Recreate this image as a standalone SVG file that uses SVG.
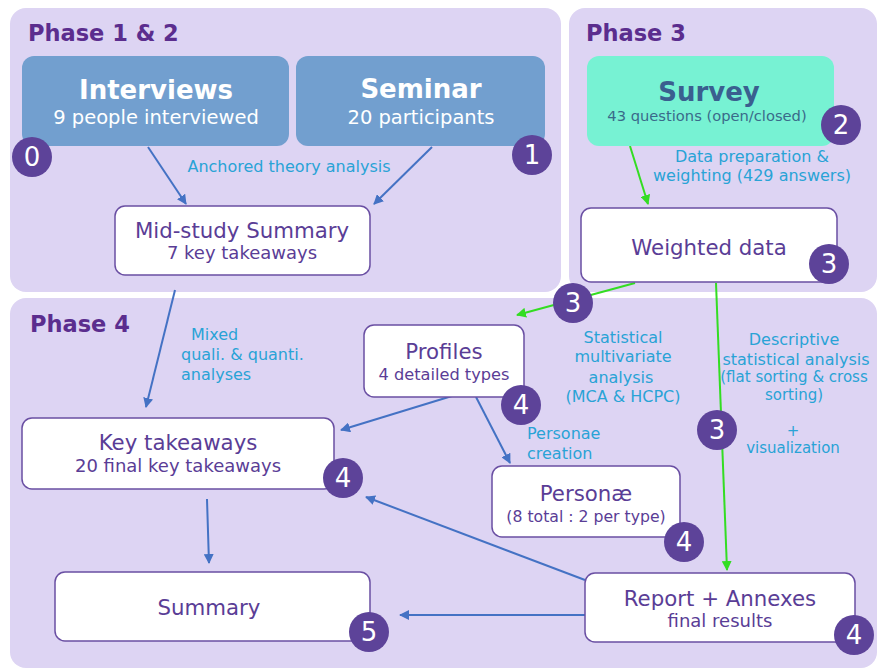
<svg xmlns="http://www.w3.org/2000/svg" width="877" height="668" viewBox="0 0 877 668">
<defs>
<marker id="ab" viewBox="0 0 10 10" refX="9" refY="5" markerWidth="5" markerHeight="5" orient="auto"><path d="M0,0 L10,5 L0,10 z" fill="#4472c4"/></marker>
<marker id="ag" viewBox="0 0 10 10" refX="9" refY="5" markerWidth="5" markerHeight="5" orient="auto"><path d="M0,0 L10,5 L0,10 z" fill="#33dd22"/></marker>
<style>
text{font-family:"DejaVu Sans",sans-serif;text-anchor:middle}
.panel{fill:#ddd4f3}
.title{fill:#5b2d8e;font-weight:bold;font-size:22.5px;text-anchor:start}
.box{fill:#fff;stroke:#6a4fa3;stroke-width:1.5}
.nt{fill:#5a3d96;font-size:21.3px}
.ns{fill:#5a3d96;font-size:18px}
.lbl{fill:#29a3d6;font-size:16px}
.sm{font-size:15px}
.badge circle{fill:#5d4399}
.badge text{fill:#fff;font-size:26px}
.bl{stroke:#4472c4;stroke-width:2;fill:none;marker-end:url(#ab)}
.gr{stroke:#33dd22;stroke-width:2;fill:none;marker-end:url(#ag)}
</style>
</defs>
<rect width="877" height="668" fill="#fff"/>
<g id="phase12"><rect class="panel" x="10" y="8" width="551" height="284" rx="16"/><text class="title" x="28" y="41">Phase 1 &amp; 2</text></g>
<g id="phase3"><rect class="panel" x="569" y="8" width="308" height="284" rx="16"/><text class="title" x="586" y="41">Phase 3</text></g>
<g id="phase4"><rect class="panel" x="10" y="298" width="867" height="370" rx="16"/><text class="title" x="30" y="332">Phase 4</text></g>

<g id="connectors">
<line class="bl" x1="148" y1="147" x2="186" y2="204"/>
<line class="bl" x1="432" y1="147" x2="374" y2="204"/>
<line class="gr" x1="630" y1="146" x2="648" y2="204"/>
<line class="gr" x1="635" y1="283" x2="517" y2="315"/>
<line class="gr" x1="716" y1="283" x2="727" y2="570"/>
<line class="bl" x1="175" y1="290" x2="146" y2="407"/>
<line class="bl" x1="452" y1="396" x2="341" y2="430"/>
<line class="bl" x1="476" y1="397" x2="510" y2="463"/>
<line class="bl" x1="207" y1="499" x2="209" y2="563"/>
<path class="bl" d="M585,580 L366,497"/>
<line class="bl" x1="585" y1="615" x2="400" y2="615"/>
<text class="lbl" x="289" y="172">Anchored theory analysis</text>
<text class="lbl" x="752" y="162">Data preparation &amp;</text>
<text class="lbl" x="752" y="181">weighting (429 answers)</text>
<text class="lbl" style="text-anchor:start" x="191" y="340">Mixed</text>
<text class="lbl" style="text-anchor:start" x="181" y="360">quali. &amp; quanti.</text>
<text class="lbl" style="text-anchor:start" x="181" y="380">analyses</text>
<text class="lbl" x="623" y="343">Statistical</text>
<text class="lbl" x="623" y="362">multivariate</text>
<text class="lbl" x="621" y="383">analysis</text>
<text class="lbl" x="623" y="402">(MCA &amp; HCPC)</text>
<text class="lbl" x="794" y="345">Descriptive</text>
<text class="lbl" x="796" y="365">statistical analysis</text>
<text class="lbl sm" x="794" y="382">(flat sorting &amp; cross</text>
<text class="lbl sm" x="794" y="400">sorting)</text>
<text class="lbl sm" x="793" y="436">+</text>
<text class="lbl sm" x="793" y="453">visualization</text>
<text class="lbl" style="text-anchor:start" x="527" y="439">Personae</text>
<text class="lbl" style="text-anchor:start" x="527" y="459">creation</text>
</g>

<g id="interviews"><rect x="22" y="56" width="267" height="90" rx="12" fill="#729fcf"/><text x="156" y="99" fill="#fff" font-size="26" font-weight="bold">Interviews</text><text x="156" y="124" fill="#fff" font-size="19.5">9 people interviewed</text></g>
<g id="seminar"><rect x="296" y="56" width="249" height="90" rx="12" fill="#729fcf"/><text x="421" y="98" fill="#fff" font-size="26" font-weight="bold">Seminar</text><text x="421" y="124" fill="#fff" font-size="19.5">20 participants</text></g>
<g id="midstudy"><rect class="box" x="115" y="206" width="255" height="69" rx="10"/><text class="nt" x="242" y="238">Mid-study Summary</text><text class="ns" x="242" y="259">7 key takeaways</text></g>
<g id="survey"><rect x="587" y="56" width="247" height="90" rx="12" fill="#77f2d3"/><text x="709" y="101" fill="#3a5f8f" font-size="26" font-weight="bold">Survey</text><text x="707" y="121" fill="#3a6a8a" font-size="14.7">43 questions (open/closed)</text></g>
<g id="weighted"><rect class="box" x="581" y="208" width="256" height="74" rx="10"/><text class="nt" x="709" y="255">Weighted data</text></g>
<g id="profiles"><rect class="box" x="364" y="325" width="160" height="72" rx="10"/><text class="nt" x="444" y="359">Profiles</text><text class="ns" x="444" y="380" style="font-size:16.2px">4 detailed types</text></g>
<g id="keytakeaways"><rect class="box" x="22" y="418" width="312" height="71" rx="10"/><text class="nt" x="178" y="450">Key takeaways</text><text class="ns" x="178" y="472">20 final key takeaways</text></g>
<g id="personae"><rect class="box" x="492" y="466" width="188" height="71" rx="10"/><text class="nt" x="586" y="501">Personæ</text><text class="ns" x="586" y="522" style="font-size:15.7px">(8 total : 2 per type)</text></g>
<g id="report"><rect class="box" x="585" y="573" width="270" height="69" rx="10"/><text class="nt" x="720" y="606">Report + Annexes</text><text class="ns" x="720" y="627">final results</text></g>
<g id="summary"><rect class="box" x="55" y="572" width="315" height="69" rx="10"/><text class="nt" x="209" y="615">Summary</text></g>

<g id="badges">
<g class="badge"><circle cx="32" cy="157" r="20"/><text x="32" y="166">0</text></g>
<g class="badge"><circle cx="532" cy="155" r="20"/><text x="532" y="164">1</text></g>
<g class="badge"><circle cx="841" cy="125" r="20"/><text x="841" y="134">2</text></g>
<g class="badge"><circle cx="829" cy="264" r="20"/><text x="829" y="273">3</text></g>
<g class="badge"><circle cx="573" cy="303" r="20"/><text x="573" y="312">3</text></g>
<g class="badge"><circle cx="717" cy="430" r="20"/><text x="717" y="439">3</text></g>
<g class="badge"><circle cx="521" cy="405" r="20"/><text x="521" y="414">4</text></g>
<g class="badge"><circle cx="343" cy="478" r="20"/><text x="343" y="487">4</text></g>
<g class="badge"><circle cx="684" cy="542" r="20"/><text x="684" y="551">4</text></g>
<g class="badge"><circle cx="854" cy="635" r="20"/><text x="854" y="644">4</text></g>
<g class="badge"><circle cx="369" cy="632" r="20"/><text x="369" y="641">5</text></g>
</g>
</svg>
